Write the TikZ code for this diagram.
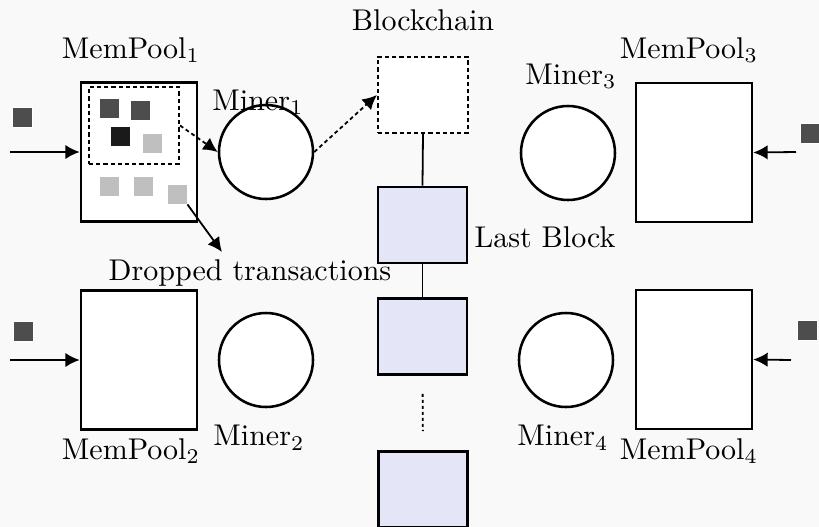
\documentclass[tikz,border=0pt]{standalone}
\usetikzlibrary{arrows.meta}
\definecolor{bgc}{RGB}{249,249,249}
\definecolor{blkc}{RGB}{229,229,248}
\definecolor{txdark}{RGB}{77,77,77}
\definecolor{txblack}{RGB}{26,26,26}
\definecolor{txlight}{RGB}{191,191,191}
\newcommand\pxu{0.33333pt}
\begin{document}
\begin{tikzpicture}[x=0.33333pt,y=-0.33333pt,
  pool/.style={draw,line width=0.85pt,fill=white,minimum width=116*\pxu,minimum height=139*\pxu,inner sep=0pt},
  miner/.style={draw,circle,line width=0.85pt,fill=white,minimum size=94*\pxu,inner sep=0pt},
  blockbox/.style={draw,line width=0.85pt,fill=blkc,minimum width=89*\pxu,minimum height=76*\pxu,inner sep=0pt},
  newblock/.style={draw,line width=0.7pt,fill=white,dash pattern=on 1.4pt off 1pt,minimum width=90*\pxu,minimum height=76*\pxu,inner sep=0pt},
  selbox/.style={draw,line width=0.7pt,dash pattern=on 1.4pt off 1pt,minimum width=90*\pxu,minimum height=77*\pxu,inner sep=0pt},
  tx/.style={draw=white,line width=0.3pt,minimum size=20*\pxu,inner sep=0pt},
  arr/.style={line width=0.6pt,-{Latex[length=4.8pt,width=4.8pt]}},
  darr/.style={arr,dash pattern=on 1.3pt off 1pt},
  link/.style={line width=0.6pt},
  lbl/.style={inner sep=0pt}]
\clip (0,0) rectangle (819,527);
\fill[bgc] (0,0) rectangle (819,527);

% mempools
\node[pool] (mp1) at (139,152) {};
\node[pool] (mp2) at (139,360) {};
\node[pool] (mp3) at (694,152.5) {};
\node[pool] (mp4) at (694,359.5) {};

% selected transactions
\node[selbox] (sel) at (134,125.5) {};
\node[tx,fill=txdark] (s1) at (109.5,108.5) {};
\node[tx,fill=txdark] (s2) at (140,110) {};
\node[tx,fill=txblack] (s3) at (120,136) {};
\node[tx,fill=txlight] (s4) at (152,143) {};
\node[tx,fill=txlight] (s5) at (109.5,186) {};
\node[tx,fill=txlight] (s6) at (143.5,186) {};
\node[tx,fill=txlight] (s7) at (177,194) {};

% incoming transactions
\node[tx,fill=txdark] (in1) at (22,117) {};
\node[tx,fill=txdark] (in2) at (23,331) {};
\node[tx,fill=txdark] (in3) at (810,133) {};
\node[tx,fill=txdark] (in4) at (807,330) {};
\coordinate (a1) at (10,152);
\coordinate (a2) at (10,360);
\coordinate (a3) at (796,152);
\coordinate (a4) at (791,360);
\draw[arr] (a1) -- (mp1.west);
\draw[arr] (a2) -- (mp2.west);
\draw[arr] (a3) -- (mp3.east);
\draw[arr] (a4) -- (mp4.east);

% miners
\node[miner] (m1) at (266,152) {};
\node[miner] (m2) at (266,360) {};
\node[miner] (m3) at (568,153) {};
\node[miner] (m4) at (566,360) {};

% blockchain
\node[newblock] (db) at (423,95) {};
\node[blockbox] (b1) at (422.5,225) {};
\node[blockbox] (b2) at (422.5,336.5) {};
\node[blockbox] (b3) at (423,489.5) {};
\draw[link] (db.south) -- (b1.north);
\draw[link] (b1.south) -- (b2.north);
\draw[link,dash pattern=on 1pt off 1pt,shorten <=18*\pxu,shorten >=19*\pxu] (b2.south) -- (b3.north);

% flows
\draw[darr] (sel.east) -- (m1.west);
\draw[darr] (m1.east) -- (db.west);
\coordinate (dropend) at (222,252);
\draw[arr] (s7.south east) -- (dropend);

% labels
\node[lbl] (lmp1) at (131,50) {MemPool$_1$};
\node[lbl] (lmp2) at (131,451) {MemPool$_2$};
\node[lbl] (lmp3) at (689,50) {MemPool$_3$};
\node[lbl] (lmp4) at (689,451) {MemPool$_4$};
\node[lbl] (lm1) at (258,102) {Miner$_1$};
\node[lbl] (lm2) at (259,438) {Miner$_2$};
\node[lbl] (lm3) at (571,76) {Miner$_3$};
\node[lbl] (lm4) at (563,438) {Miner$_4$};
\node[lbl] (lbc) at (423,20) {Blockchain};
\node[lbl] (llb) at (545,237) {Last Block};
\node[lbl] (ldrop) at (250,273) {Dropped transactions};
\end{tikzpicture}
\end{document}
